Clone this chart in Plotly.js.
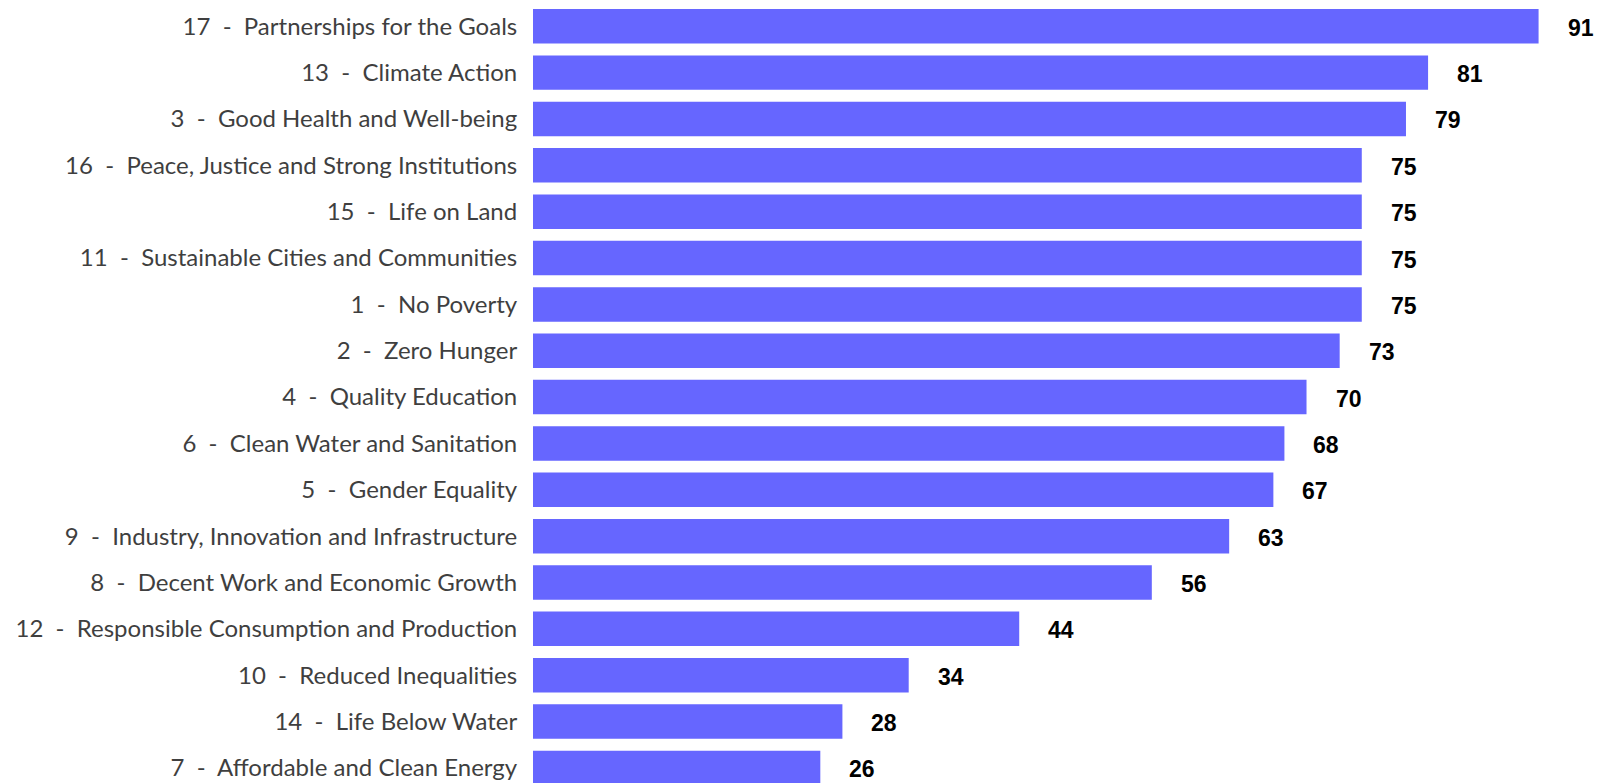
<!DOCTYPE html>
<html>
<head>
<meta charset="utf-8">
<script src="https://cdn.plot.ly/plotly-3.0.1.min.js"></script>
<style>html,body{margin:0;padding:0;background:#fff;}#chart{width:1604px;height:783px;}</style>
</head>
<body>
<div id="chart"></div>
<script>
// Goals listed top to bottom as in the chart
const goalNumbers = [17, 13, 3, 16, 15, 11, 1, 2, 4, 6, 5, 9, 8, 12, 10, 14, 7];
const goalNames = [
  "Partnerships for the Goals",
  "Climate Action",
  "Good Health and Well-being",
  "Peace, Justice and Strong Institutions",
  "Life on Land",
  "Sustainable Cities and Communities",
  "No Poverty",
  "Zero Hunger",
  "Quality Education",
  "Clean Water and Sanitation",
  "Gender Equality",
  "Industry, Innovation and Infrastructure",
  "Decent Work and Economic Growth",
  "Responsible Consumption and Production",
  "Reduced Inequalities",
  "Life Below Water",
  "Affordable and Clean Energy"
];
const scores = [91, 81, 79, 75, 75, 75, 75, 73, 70, 68, 67, 63, 56, 44, 34, 28, 26];

const sp = "\u00a0\u00a0";
const labels = goalNames.map((n, i) => goalNumbers[i] + sp + "-" + sp + n);

const trace = {
  type: "bar",
  orientation: "h",
  x: scores,
  y: labels,
  marker: {color: "#6666ff", line: {width: 0}},
  hoverinfo: "skip",
  cliponaxis: false
};

const annotations = scores.map((v, i) => ({
  x: v, y: labels[i], xref: "x", yref: "y",
  text: String(v), showarrow: false,
  xanchor: "left", yanchor: "middle", xshift: 27, yshift: -1.5,
  font: {family: "Liberation Sans, Arial, sans-serif", size: 23, color: "#000000", weight: "bold"}
}));

const layout = {
  width: 1604, height: 783,
  margin: {l: 533, r: 0, t: 0, b: 0, pad: 0},
  paper_bgcolor: "#ffffff",
  plot_bgcolor: "#ffffff",
  showlegend: false,
  bargap: 0.256,
  xaxis: {
    range: [0, 96.92], showgrid: false, zeroline: false, showline: false,
    showticklabels: false, ticks: ""
  },
  yaxis: {
    type: "category",
    range: [16.326, -0.567],
    showgrid: false, zeroline: false, showline: false,
    ticks: "outside", ticklen: 10, tickcolor: "rgba(0,0,0,0)",
    tickfont: {family: "Lato, Carlito, Calibri, sans-serif", size: 24, color: "#3f3f3f"}
  },
  annotations: annotations
};

Plotly.newPlot("chart", [trace], layout, {staticPlot: true, displayModeBar: false});
</script>
</body>
</html>
